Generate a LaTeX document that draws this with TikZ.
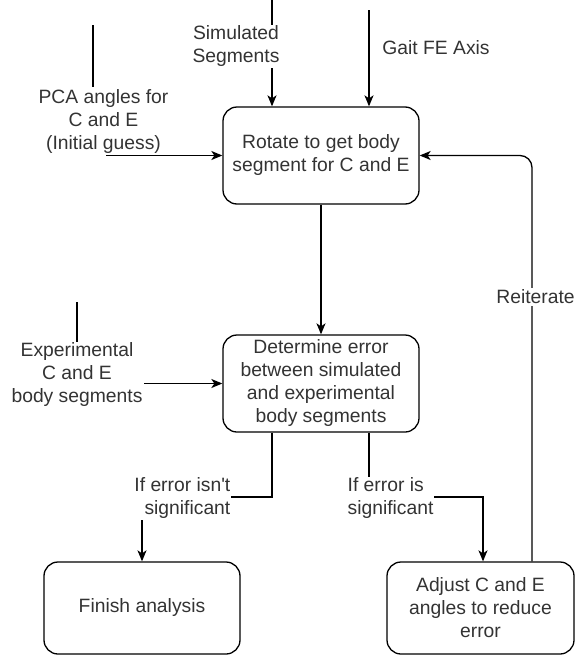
\documentclass[tikz,border=0pt]{standalone}
\usepackage{fontspec}
\setmainfont{Liberation Sans}
\usetikzlibrary{arrows.meta}
\begin{document}
\begin{tikzpicture}[x=1pt,y=-1pt,
  line width=1.3pt,
  every node/.style={font=\fontsize{19.3}{23}\selectfont, text=black!80},
  box/.style={draw, line width=1.3pt, rounded corners=14pt, minimum width=196pt, minimum height=97pt, align=center, inner sep=0pt},
  lbl/.style={align=center, inner sep=1.5pt},
  wlbl/.style={lbl, fill=white},
  arr/.style={-{Stealth[length=11pt,width=9pt,inset=3pt]}}]
\useasboundingbox (0,0) rectangle (575,656);

% boxes
\node[box] (rot) at (321,155.5) {Rotate to get body\\segment for C and E};
\node[box] (det) at (321,383.5) {Determine error\\between simulated\\and experimental\\body segments};
\node[box, minimum height=92pt] (fin) at (142,608) {Finish analysis};
\node[box, minimum height=92pt, minimum width=187pt] (adj) at (480.5,608) {Adjust C and E\\angles to reduce\\error};

% PCA input
\coordinate (pcaTop) at (93,25);
\coordinate (pcaBot) at (93,87);
\coordinate (pcaStart) at (106,155.5);
\draw (pcaTop) -- (pcaBot);
\node[lbl] (pca) at (103.5,122) {PCA angles for\\C and E\\(Initial guess)};
\draw[arr] (pcaStart) -- (rot.west);

% Simulated segments input
\coordinate (simTop) at (272,0);
\draw[arr] (simTop) -- (rot.north -| simTop);
\node[wlbl] (sim) at (236,46.5) {Simulated\\Segments};

% Gait FE axis input
\coordinate (gaitTop) at (369,10);
\draw[arr] (gaitTop) -- (rot.north -| gaitTop);
\node[lbl] (gait) at (436,48) {Gait FE Axis};

% rotate -> determine
\draw[arr] (rot.south) -- (det.north);

% Experimental input
\coordinate (expTop) at (77,302);
\draw[arr] (expTop) |- (det.west);
\node[wlbl] (exp) at (77,375) {Experimental\\C and E\\body segments};

% determine -> finish
\coordinate (lx) at (272,0);
\coordinate (fx) at (142,0);
\draw[arr] (det.south -| lx) -- (272,497) -- (142,497) -- (fin.north -| fx);
\node[wlbl, align=right, anchor=east, inner sep=1pt] (ns) at (232,498.5) {If error isn\textquotesingle t\\significant};

% determine -> adjust
\coordinate (rx) at (369,0);
\coordinate (ax) at (483,0);
\draw[arr] (det.south -| rx) -- (369,497) -- (483,497) -- (adj.north -| ax);
\node[wlbl, align=left, anchor=west, inner sep=1pt] (sg) at (346,498.5) {If error is\\significant};

% reiterate
\coordinate (itx) at (532,0);
\draw[arr, rounded corners=12pt] (adj.north -| itx) |- (rot.east);
\node[wlbl] (reit) at (535.5,297) {Reiterate};
\end{tikzpicture}
\end{document}
